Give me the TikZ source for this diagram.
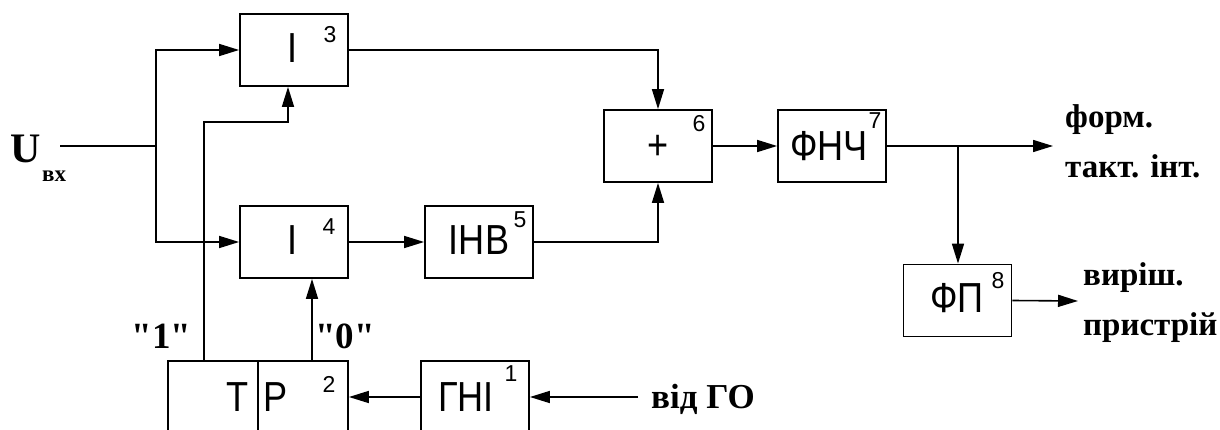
\documentclass[tikz,border=0pt]{standalone}
\usepackage{fontspec}
\setmainfont{Liberation Serif}
\newfontfamily\arialf[FakeStretch=0.86]{Liberation Sans}
\newfontfamily\arialn{Liberation Sans}
\newfontfamily\tnrq{Liberation Serif}
\usetikzlibrary{arrows.meta}
\begin{document}
\begin{tikzpicture}[x=1pt,y=-1pt,
  blk/.style={draw,line width=1.8pt,minimum width=108pt,minimum height=72pt,inner sep=0pt,
    font=\arialf\fontsize{42}{44}\selectfont},
  num/.style={font=\arialn\fontsize{23}{25}\selectfont,inner sep=0pt},
  lbl/.style={font=\bfseries\fontsize{33}{36}\selectfont,inner sep=0pt},
  arr/.style={line width=1.6pt,-{Triangle[length=20pt,width=12pt]}},
  ln/.style={line width=1.6pt}]
\useasboundingbox (0,0) rectangle (1220,430);
\begin{scope}
\clip (0,0) rectangle (1220,430);
% blocks
\node[blk] (b3) at (294,50) {};
\node[blk] (b4) at (294,242) {};
\node[blk] (b5) at (479,242) {};
\node[blk] (b6) at (658,146) {};
\node[blk] (b7) at (832,146) {};
\node[blk] (b8) at (957.5,300.5) {};
\node[blk,minimum width=180pt] (tp) at (258,397) {};
\node[blk] (gni) at (475,397) {};
\draw[line width=1.8pt] (258,361) -- (258,440);
% texts in blocks
\node[blk,draw=none] (t3) at (293,48) {І};
\node[blk,draw=none] (t4) at (293,240) {І};
\node[blk,draw=none] (t5) at (479,240) {ІНВ};
\node[blk,draw=none] (t6) at (658,147) {+};
\node[blk,draw=none,minimum width=0pt] (t7) at (829,146) {ФНЧ};
\node[blk,draw=none] (t8) at (957,298) {ФП};
\node[blk,draw=none,minimum width=0pt] (tT) at (238,397) {Т};
\node[blk,draw=none,minimum width=0pt] (tP) at (276,397) {Р};
\node[blk,draw=none] (tg) at (466,397) {ГНІ};
\node[num] (n3) at (330,35) {3};
\node[num] (n4) at (329,227) {4};
\node[num] (n5) at (520,220) {5};
\node[num] (n6) at (699,124) {6};
\node[num] (n7) at (875,121) {7};
\node[num] (n8) at (998,281) {8};
\node[num] (n2) at (329,384) {2};
\node[num] (n1) at (511,374) {1};
% coordinates
\coordinate (uin) at (60,146);
\coordinate (j1) at (156,146);
\coordinate (p1) at (204,361);
\coordinate (p2) at (288,122);
\coordinate (p3) at (312,361);
\coordinate (j2) at (958,146);
\coordinate (o1) at (1053,146);
\coordinate (o2) at (1078,301);
\coordinate (go) at (638,397);
% connectors
\draw[ln] (uin) -- (j1);
\draw[arr] (j1) |- (b3.west);
\draw[arr] (j1) |- (b4.west);
\draw[arr] (b3.east) -| (b6.north);
\draw[arr] (b4.east) -- (b5.west);
\draw[arr] (b5.east) -| (b6.south);
\draw[arr] (b6.east) -- (b7.west);
\draw[arr] (b7.east) -- (o1);
\draw[arr] (j2) -- (j2 |- b8.north);
\draw[arr] (b8.east) -- (o2);
\draw[arr] (p1) |- (p2) -- (p2 |- b3.south);
\draw[arr] (p3) -- (p3 |- b4.south);
\draw[arr] (gni.west) -- (tp.east);
\draw[arr] (go) -- (gni.east);
% outer labels
\node[lbl,font=\bfseries\fontsize{42}{44}\selectfont,anchor=base west] (U) at (10,163) {U};
\node[lbl,font=\bfseries\fontsize{23}{24}\selectfont,anchor=base west] (vx) at (42,182) {вх};
\node[lbl,font=\tnrq\bfseries\fontsize{37}{40}\selectfont,anchor=base] (l1) at (161.5,348) {"1"};
\node[lbl,font=\tnrq\bfseries\fontsize{37}{40}\selectfont,anchor=base] (l0) at (345,348) {"0"};
\node[lbl,font=\bfseries\fontsize{35}{36}\selectfont,anchor=base west] (vgo) at (651,408) {від ГО};
\node[lbl,anchor=base west] (f1) at (1065,128) {форм.};
\node[lbl,anchor=base west] (f2) at (1065,178) {такт. інт.};
\node[lbl,anchor=base west] (v1) at (1083,285) {виріш.};
\node[lbl,anchor=base west] (v2) at (1083,335) {пристрій};
\end{scope}
\end{tikzpicture}
\end{document}
